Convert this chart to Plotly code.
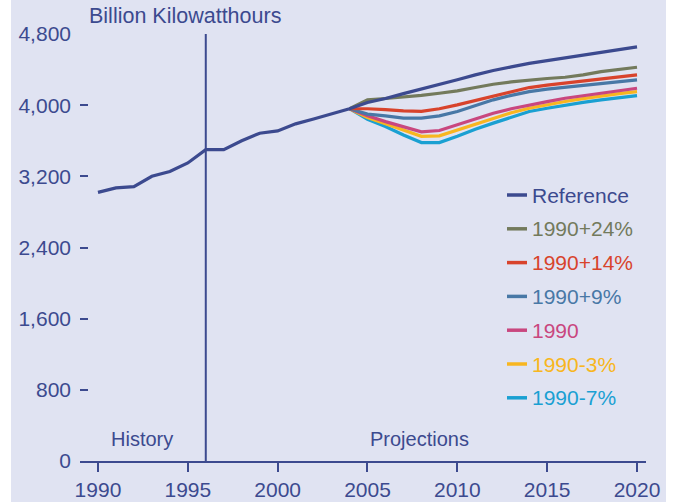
import plotly.graph_objects as go

# ---------------- data ----------------
hist_years = list(range(1990, 2005))
hist_values = [3020, 3070, 3085, 3200, 3255, 3350, 3500, 3500, 3600, 3685, 3710, 3790, 3845, 3900, 3960]

proj_years = list(range(2004, 2021))
reference = [3960, 4030, 4075, 4130, 4180, 4230, 4285, 4340, 4390, 4430, 4470, 4500, 4530, 4560, 4590, 4625, 4655]
plus24 = [3960, 4060, 4075, 4090, 4110, 4134, 4160, 4198, 4235, 4262, 4284, 4300, 4314, 4340, 4377, 4400, 4426]
plus14 = [3960, 3960, 3950, 3935, 3930, 3960, 4003, 4050, 4097, 4150, 4198, 4225, 4247, 4272, 4295, 4318, 4340]
plus9 = [3960, 3900, 3880, 3855, 3855, 3880, 3929, 3995, 4060, 4110, 4153, 4180, 4202, 4225, 4247, 4265, 4284]
level1990 = [3960, 3880, 3815, 3760, 3700, 3715, 3780, 3845, 3910, 3960, 4003, 4040, 4078, 4106, 4134, 4162, 4190]
minus3 = [3960, 3860, 3790, 3720, 3650, 3655, 3720, 3790, 3855, 3915, 3966, 4005, 4041, 4073, 4104, 4130, 4153]
minus7 = [3960, 3840, 3760, 3665, 3580, 3580, 3650, 3730, 3798, 3860, 3929, 3965, 4003, 4032, 4060, 4085, 4108]

series_names = ["Reference", "1990+24%", "1990+14%", "1990+9%", "1990", "1990-3%", "1990-7%"]
series_values = [reference, plus24, plus14, plus9, level1990, minus3, minus7]
series_colors = ["#3c4a8f", "#737a5c", "#d8432c", "#4878a6", "#c9477f", "#f8b620", "#1aa0d2"]

x_ticks = [1990, 1995, 2000, 2005, 2010, 2015, 2020]
y_ticks = [0, 800, 1600, 2400, 3200, 4000, 4800]
divider_year = 1996

NAVY = "#3c4a8f"
BG = "#e0e3f2"
FONT = "Liberation Sans, Arial, sans-serif"

# ---------------- figure ----------------
W, H = 678, 502
L, R, T, B = 80, 32, 34, 41
pw, ph = W - L - R, H - T - B


def px_x(px):
    return (px - L) / pw


def px_y(py):
    return (H - B - py) / ph


fig = go.Figure()

# scenarios (drawn first, reference on top)
for name, vals, col in list(zip(series_names, series_values, series_colors))[::-1]:
    if name == "Reference":
        xs = hist_years + proj_years[1:]
        ys = hist_values + vals[1:]
    else:
        xs = proj_years
        ys = vals
    fig.add_trace(go.Scatter(x=xs, y=ys, mode="lines", name=name,
                             line=dict(color=col, width=3.2), showlegend=False,
                             hoverinfo="skip"))

shapes = [
    dict(type="rect", xref="paper", yref="paper", x0=px_x(11), x1=px_x(666),
         y0=px_y(502), y1=px_y(0), fillcolor=BG, line=dict(width=0), layer="below"),
    dict(type="line", xref="x", yref="y", x0=divider_year, x1=divider_year,
         y0=0, y1=y_ticks[-1], line=dict(color=NAVY, width=2)),
]

annotations = [
    dict(text="Billion Kilowatthours", xref="paper", yref="paper", x=px_x(87), y=px_y(16),
         xanchor="left", yanchor="middle", showarrow=False, font=dict(size=21.5, color=NAVY, family=FONT)),
    dict(text="History", xref="paper", yref="paper", x=px_x(142), y=px_y(439),
         xanchor="center", yanchor="middle", showarrow=False, font=dict(size=20, color=NAVY, family=FONT)),
    dict(text="Projections", xref="paper", yref="paper", x=px_x(419), y=px_y(439),
         xanchor="center", yanchor="middle", showarrow=False, font=dict(size=20, color=NAVY, family=FONT)),
]

# custom legend
leg_top = 195
leg_step = 33.8
for i, (name, col) in enumerate(zip(series_names, series_colors)):
    cy = leg_top + i * leg_step
    shapes.append(dict(type="line", xref="paper", yref="paper", x0=px_x(507), x1=px_x(527),
                       y0=px_y(cy), y1=px_y(cy), line=dict(color=col, width=3.5)))
    annotations.append(dict(text=name, xref="paper", yref="paper", x=px_x(530), y=px_y(cy),
                            xanchor="left", yanchor="middle", showarrow=False,
                            font=dict(size=21, color=col, family=FONT)))

fig.update_layout(
    width=W, height=H,
    margin=dict(l=L, r=R, t=T, b=B, pad=0, autoexpand=False),
    paper_bgcolor="white",
    plot_bgcolor=BG,
    font=dict(family=FONT, color=NAVY, size=20),
    shapes=shapes,
    annotations=annotations,
    showlegend=False,
)

fig.update_xaxes(
    range=[1989.0, 2020.5], tickvals=x_ticks, showgrid=False, zeroline=False,
    showline=True, linecolor=NAVY, linewidth=2, automargin=False,
    ticks="outside", ticklen=9, tickwidth=1.5, tickcolor=NAVY,
    tickfont=dict(size=21, color=NAVY, family=FONT),
)
fig.update_yaxes(
    range=[0, 4800], tickvals=y_ticks, tickformat=",d", showgrid=False, zeroline=False,
    showline=False, ticks="inside", ticklen=8, tickwidth=1.5, tickcolor=NAVY,
    ticklabelstandoff=8, automargin=False,
    tickfont=dict(size=21, color=NAVY, family=FONT),
)

fig.write_html("out.html",
               config={"displayModeBar": False},
               post_script="document.body.style.margin='0';document.body.style.overflow='hidden';")
